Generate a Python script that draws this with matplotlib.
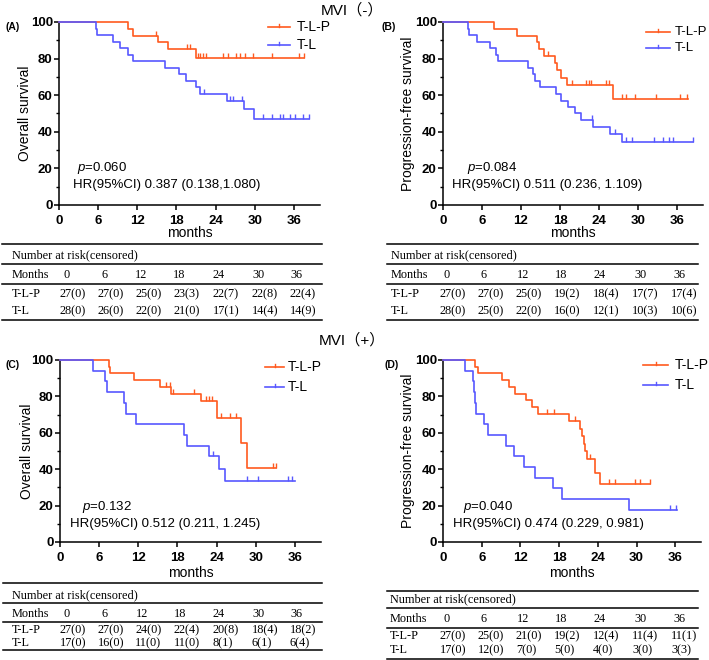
import matplotlib
matplotlib.use('Agg')
import matplotlib.pyplot as plt
import numpy as np
from matplotlib.lines import Line2D

plt.rcParams['mathtext.fontset'] = 'custom'
plt.rcParams['mathtext.rm'] = 'Liberation Sans'
plt.rcParams['mathtext.it'] = 'Liberation Sans:italic'

W, H = 709, 660
ORANGE = '#FF5A1F'
BLUE = '#5858FF'
SANS = ['Liberation Sans', 'DejaVu Sans']
SERIF = ['Liberation Serif', 'DejaVu Serif']
TITLE_FONT = ['Liberation Sans', 'Noto Sans CJK SC', 'DejaVu Sans']

groups = ['T-L-P', 'T-L']
months_ticks = [0, 6, 12, 18, 24, 30, 36]

# ---------------- Panel A: MVI(-) overall survival ----------------
A_tlp_t = [10.6, 11.4, 15.1, 16.7, 21.0]
A_tlp_s = [96.3, 92.6, 88.9, 85.2, 80.3]
A_tlp_c = [14.9, 19.6, 20.1, 21.3, 21.6, 22.1, 22.6, 25.2, 25.9, 27.1, 27.7, 28.5, 29.8, 32.7, 36.8, 37.6]
A_tlp_end = 37.6
A_tl_t = [5.7, 5.9, 8.3, 9.4, 10.5, 11.3, 16.2, 18.4, 19.4, 21.0, 21.6, 25.7, 28.3, 29.9]
A_tl_s = [96.4, 92.9, 89.3, 85.7, 82.1, 78.6, 75.0, 71.4, 67.9, 64.3, 60.7, 57.1, 52.4, 47.2]
A_tl_c = [22.2, 26.2, 26.7, 28.1, 31.3, 32.6, 33.9, 34.4, 35.4, 36.2, 37.4, 38.3]
A_tl_end = 38.3
A_risk_tlp = ['27(0)', '27(0)', '25(0)', '23(3)', '22(7)', '22(8)', '22(4)']
A_risk_tl = ['28(0)', '26(0)', '22(0)', '21(0)', '17(1)', '14(4)', '14(9)']
A_p = '0.060'
A_hr = 'HR(95%CI) 0.387 (0.138,1.080)'

# ---------------- Panel B: MVI(-) progression-free survival ----------------
B_tlp_t = [7.8, 11.4, 14.5, 14.7, 15.6, 17.3, 17.5, 18.1, 19.0, 26.1]
B_tlp_s = [96.3, 92.6, 88.9, 85.2, 81.5, 77.8, 73.8, 69.3, 65.4, 58.0]
B_tlp_c = [16.2, 19.8, 22.0, 22.4, 22.8, 25.0, 25.5, 27.6, 28.1, 29.5, 32.7, 36.4, 37.6]
B_tlp_end = 37.7
B_tl_t = [3.8, 4.0, 5.3, 7.3, 8.1, 8.4, 13.1, 13.8, 14.2, 14.9, 17.4, 18.1, 19.2, 20.3, 21.3, 23.1, 25.7, 27.5]
B_tl_s = [96.4, 92.9, 89.3, 85.7, 82.1, 78.6, 75.0, 71.4, 67.9, 64.3, 60.7, 57.1, 53.6, 50.0, 46.4, 42.5, 38.6, 34.5]
B_tl_c = [22.9, 26.5, 28.2, 29.0, 32.4, 33.9, 34.7, 35.4, 38.4]
B_tl_end = 38.5
B_risk_tlp = ['27(0)', '27(0)', '25(0)', '19(2)', '18(4)', '17(7)', '17(4)']
B_risk_tl = ['28(0)', '25(0)', '22(0)', '16(0)', '12(1)', '10(3)', '10(6)']
B_p = '0.084'
B_hr = 'HR(95%CI) 0.511 (0.236, 1.109)'

# ---------------- Panel C: MVI(+) overall survival ----------------
C_tlp_t = [7.56, 7.66, 11.4, 15.4, 17.0, 21.6, 24.1, 27.7, 28.7]
C_tlp_s = [96.3, 92.6, 88.9, 85.2, 81.5, 77.2, 68.3, 54.5, 40.9]
C_tlp_c = [16.3, 16.8, 17.3, 20.5, 22.4, 22.8, 23.3, 24.6, 26.1, 27.0, 32.6, 33.1]
C_tlp_end = 33.1
C_tl_t = [5.0, 6.9, 7.15, 9.8, 10.1, 11.6, 19.05, 19.4, 22.8, 24.3, 25.3]
C_tl_s = [94.1, 88.2, 82.4, 76.5, 70.6, 64.7, 58.8, 52.9, 47.1, 40.3, 33.6]
C_tl_c = [23.5, 28.6, 30.3, 35.0, 35.6]
C_tl_end = 36.0
C_risk_tlp = ['27(0)', '27(0)', '24(0)', '22(4)', '20(8)', '18(4)', '18(2)']
C_risk_tl = ['17(0)', '16(0)', '11(0)', '11(0)', '8(1)', '6(1)', '6(4)']
C_p = '0.132'
C_hr = 'HR(95%CI) 0.512 (0.211, 1.245)'

# ---------------- Panel D: MVI(+) progression-free survival ----------------
D_tlp_t = [5.0, 5.5, 9.1, 10.3, 11.2, 12.8, 13.8, 14.8, 19.6, 21.3, 21.6, 21.8, 22.0, 22.3, 23.5, 24.3]
D_tlp_s = [96.3, 92.6, 88.9, 85.2, 81.5, 77.8, 74.1, 70.4, 66.3, 62.2, 58.0, 53.9, 49.8, 45.6, 38.0, 31.6]
D_tlp_c = [16.2, 17.2, 20.4, 22.8, 25.8, 26.7, 29.8, 30.6, 32.1]
D_tlp_end = 32.1
D_tl_t = [3.36, 4.6, 4.8, 4.9, 5.1, 6.3, 6.9, 9.8, 11.0, 12.6, 14.2, 17.1, 18.4, 28.9]
D_tl_s = [94.1, 88.2, 82.4, 76.5, 70.6, 64.7, 58.8, 52.9, 47.1, 41.2, 35.3, 29.4, 23.5, 17.6]
D_tl_c = [35.2, 36.2]
D_tl_end = 36.3
D_risk_tlp = ['27(0)', '25(0)', '21(0)', '19(2)', '12(4)', '11(4)', '11(1)']
D_risk_tl = ['17(0)', '12(0)', '7(0)', '5(0)', '4(0)', '3(0)', '3(3)']
D_p = '0.040'
D_hr = 'HR(95%CI) 0.474 (0.229, 0.981)'

fig = plt.figure(figsize=(W / 100, H / 100), dpi=100)


def fx(x):
    return x / W


def fy(y):
    return 1 - y / H


def ftext(x, y, s, **kw):
    fig.text(fx(x), fy(y), s, **kw)


def fline(x0, x1, y, lw=1.0, color='black'):
    fig.add_artist(Line2D([fx(x0), fx(x1)], [fy(y), fy(y)], lw=lw, color=color,
                          transform=fig.transFigure))


def km(ax, t, s, c, end, color):
    xs = [0] + list(t) + [end]
    ys = [100] + list(s) + [s[-1]]
    ax.step(xs, ys, where='post', color=color, lw=1.2, clip_on=False, zorder=3)
    tt = np.array(t)
    ss = np.array([100] + list(s))
    cy = [ss[np.searchsorted(tt, ci, side='right')] for ci in c]
    ax.plot(c, cy, ls='none', marker=2, ms=3.5, mew=1.0, color=color,
            clip_on=False, zorder=3)


def panel(rect, label, label_xy, ylabel, ylabel_x, curves, p, hr, p_xy, hr_xy,
          legend_xy, xlabel_y, legend_fs=10):
    l, t, r, b = rect
    ax = fig.add_axes([fx(l), fy(b), (r - l) / W, (b - t) / H])
    for (tt, ss, cc, ee, col) in curves:
        km(ax, tt, ss, cc, ee, col)
    ax.set_xlim(0, 40)
    ax.set_ylim(0, 100)
    ax.set_xticks(months_ticks)
    ax.set_yticks([0, 20, 40, 60, 80, 100])
    ax.set_yticks([10, 30, 50, 70, 90], minor=True)
    for sp in ['top', 'right']:
        ax.spines[sp].set_visible(False)
    for sp in ['left', 'bottom']:
        ax.spines[sp].set_linewidth(1.1)
    ax.tick_params(axis='both', which='major', length=3.5, width=1.1, direction='out')
    ax.tick_params(axis='y', which='major', pad=1)
    ax.tick_params(axis='y', which='minor', length=2, width=1.0)
    for lab in ax.get_xticklabels() + ax.get_yticklabels():
        lab.set_fontweight('bold')
        lab.set_fontsize(9.5)
        lab.set_family(SANS)
    ax.text(p_xy[0], p_xy[1], '$p$=' + p, fontsize=9.5, family=SANS, va='center')
    ax.text(hr_xy[0], hr_xy[1], hr, fontsize=9.5, family=SANS, va='center')
    ftext(label_xy[0], label_xy[1], label, fontsize=7.5, fontweight='bold',
          family=SANS, va='center')
    ftext(ylabel_x, (t + b) / 2, ylabel, rotation=90, fontsize=10, family=SANS,
          va='center', ha='center')
    ftext((l + r) / 2, xlabel_y, 'months', fontsize=10, family=SANS,
          ha='center', va='center')
    # legend
    lx0, lx1, tx, y1, y2 = legend_xy
    for yy, col, name in [(y1, ORANGE, groups[0]), (y2, BLUE, groups[1])]:
        fline(lx0, lx1, yy, lw=1.2, color=col)
        fig.add_artist(Line2D([fx((lx0 + lx1) / 2)] * 2, [fy(yy), fy(yy - 3)], lw=1.0,
                              color=col, transform=fig.transFigure))
        ftext(tx, yy, name, fontsize=legend_fs, family=SANS, va='center')
    return ax


def table(x0, x1, lines, rows, label_x, hdr_x, val_x, risk1, risk2):
    for i, yy in enumerate(lines):
        fline(x0, x1, yy, lw=1.1)
    kw = dict(fontsize=8.8, family=SERIF, va='center')
    ftext(label_x, rows[0], 'Number at risk(censored)', **kw)
    ftext(label_x, rows[1], 'Months', **kw)
    ftext(label_x, rows[2], groups[0], **kw)
    ftext(label_x, rows[3], groups[1], **kw)
    for i in range(7):
        ftext(hdr_x[i], rows[1], str(months_ticks[i]), **kw)
        ftext(val_x[i], rows[2], risk1[i], **kw)
        ftext(val_x[i], rows[3], risk2[i], **kw)


# Titles
ftext(352, 10, 'MVI（-）', fontsize=11, family=TITLE_FONT, ha='center', va='center')
ftext(352, 340, 'MVI（+）', fontsize=11, family=TITLE_FONT, ha='center', va='center')

panel((59, 22, 320, 205), '(A)', (5, 27), 'Overall survival', 25,
      [(A_tlp_t, A_tlp_s, A_tlp_c, A_tlp_end, ORANGE),
       (A_tl_t, A_tl_s, A_tl_c, A_tl_end, BLUE)],
      A_p, A_hr, (2.8, 20.2), (2.2, 11.0), (268, 290, 297, 27, 45), 233)
panel((443, 22, 703, 205), '(B)', (381, 27), 'Progression-free survival', 408,
      [(B_tlp_t, B_tlp_s, B_tlp_c, B_tlp_end, ORANGE),
       (B_tl_t, B_tl_s, B_tl_c, B_tl_end, BLUE)],
      B_p, B_hr, (3.7, 20.2), (1.4, 11.0), (646, 670, 675, 32, 48), 233,
      legend_fs=9.5)
panel((60, 360, 321, 542), '(C)', (5, 365), 'Overall survival', 27,
      [(C_tlp_t, C_tlp_s, C_tlp_c, C_tlp_end, ORANGE),
       (C_tl_t, C_tl_s, C_tl_c, C_tl_end, BLUE)],
      C_p, C_hr, (3.4, 19.2), (1.5, 9.9), (265, 284, 288, 367, 387), 573)
panel((443, 360, 701, 542), '(D)', (384, 365), 'Progression-free survival', 408,
      [(D_tlp_t, D_tlp_s, D_tlp_c, D_tlp_end, ORANGE),
       (D_tl_t, D_tl_s, D_tl_c, D_tl_end, BLUE)],
      D_p, D_hr, (3.1, 19.2), (1.5, 9.9), (643, 668, 675, 365, 385), 573)

table(2, 322, [244, 264, 284, 320], [255, 275, 294, 311], 12,
      [63, 101, 135, 173, 213, 252, 290], [60, 98, 135, 173, 213, 252, 290],
      A_risk_tlp, A_risk_tl)
table(387, 698, [244, 264, 284, 320], [255, 275, 294, 311], 391,
      [443, 481, 517, 555, 594, 634, 673], [440, 478, 516, 554, 593, 632, 671],
      B_risk_tlp, B_risk_tl)
table(3, 322, [583, 603, 622, 650], [595, 614, 630, 643], 12,
      [63, 101, 136, 174, 213, 252, 290], [60, 98, 135, 174, 213, 252, 290],
      C_risk_tlp, C_risk_tl)
table(387, 698, [591, 608, 628, 659], [599, 619, 636, 650], 390,
      [443, 481, 517, 555, 594, 634, 673], [440, 478, 516, 554, 593, 632, 671],
      D_risk_tlp, D_risk_tl)

fig.savefig('out.png', dpi=100)
